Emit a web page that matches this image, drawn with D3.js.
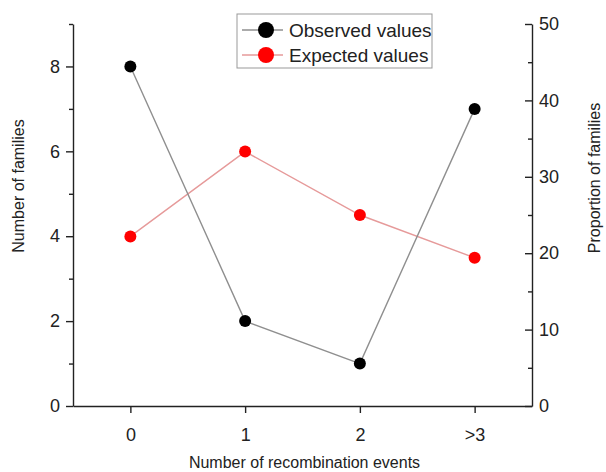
<!DOCTYPE html>
<html>
<head>
<meta charset="utf-8">
<script src="https://cdn.jsdelivr.net/npm/d3@7"></script>
<style>
  body { margin: 0; background: #fff; }
  text { font-family: "Liberation Sans", Arial, sans-serif; fill: #222; }
</style>
</head>
<body>
<div id="chart"></div>
<script>
// Data
const categories = ["0", "1", "2", ">3"];
const observed = [8, 2, 1, 7];              // number of families (left axis)
const expected = [22.2, 33.3, 25.0, 19.4];  // proportion of families, % (right axis)
const leftTicks = [0, 2, 4, 6, 8];
const leftMinor = [1, 3, 5, 7, 9];
const rightTicks = [0, 10, 20, 30, 40, 50];
const rightMinor = [5, 15, 25, 35, 45];

const W = 606, H = 472;
const plot = { left: 73, right: 532, top: 24, bottom: 406 };

const svg = d3.select("#chart")
    .append("svg")
    .attr("width", W)
    .attr("height", H);

// Scales
const xScale = d3.scaleLinear()
    .domain([-0.5, categories.length - 0.5])
    .range([plot.left, plot.right]);

const yLeft = d3.scaleLinear()
    .domain([0, 9])
    .range([plot.bottom, plot.top]);

const yRight = d3.scaleLinear()
    .domain([0, 50])
    .range([plot.bottom, plot.top]);

const axisColor = "#222";

function styleAxis(g) {
    g.selectAll("path.domain").attr("stroke", axisColor).attr("stroke-width", 1.4);
    g.selectAll(".tick line").attr("stroke", axisColor).attr("stroke-width", 1.4);
    g.selectAll(".tick text")
        .attr("fill", "#222")
        .style("font-size", "18px")
        .style("font-family", "'Liberation Sans', Arial, sans-serif");
}

// Bottom axis
svg.append("g")
    .attr("transform", `translate(0,${plot.bottom})`)
    .call(d3.axisBottom(xScale)
        .tickValues(d3.range(categories.length))
        .tickFormat((d) => categories[d])
        .tickSize(7)
        .tickSizeOuter(0)
        .tickPadding(15))
    .call(styleAxis);

// Left axis, major + minor ticks
svg.append("g")
    .attr("transform", `translate(${plot.left},0)`)
    .call(d3.axisLeft(yLeft)
        .tickValues(leftTicks)
        .tickFormat(d3.format("d"))
        .tickSize(7)
        .tickSizeOuter(0)
        .tickPadding(6))
    .call(styleAxis);

svg.append("g")
    .attr("transform", `translate(${plot.left},0)`)
    .call(d3.axisLeft(yLeft)
        .tickValues(leftMinor)
        .tickFormat("")
        .tickSize(4)
        .tickSizeOuter(0))
    .call(styleAxis)
    .select("path.domain").remove();

// Right axis, ticks point inward
svg.append("g")
    .attr("transform", `translate(${plot.right},0)`)
    .call(d3.axisRight(yRight)
        .tickValues(rightTicks)
        .tickFormat(d3.format("d"))
        .tickSize(-7)
        .tickSizeOuter(0)
        .tickPadding(7))
    .call(styleAxis);

svg.append("g")
    .attr("transform", `translate(${plot.right},0)`)
    .call(d3.axisRight(yRight)
        .tickValues(rightMinor)
        .tickFormat("")
        .tickSize(-4)
        .tickSizeOuter(0))
    .call(styleAxis)
    .select("path.domain").remove();

// Axis titles
svg.append("text")
    .attr("text-anchor", "middle")
    .attr("x", (plot.left + plot.right) / 2 + 2)
    .attr("y", 468)
    .style("font-size", "16px")
    .text("Number of recombination events");

svg.append("text")
    .attr("text-anchor", "middle")
    .attr("transform", "rotate(-90)")
    .attr("x", -186)
    .attr("y", 24)
    .style("font-size", "16px")
    .text("Number of families");

svg.append("text")
    .attr("text-anchor", "middle")
    .attr("transform", "rotate(-90)")
    .attr("x", -178)
    .attr("y", 600)
    .style("font-size", "16px")
    .text("Proportion of families");

// Lines
const obsLine = d3.line()
    .x((d, i) => xScale(i))
    .y((d) => yLeft(d));

const expLine = d3.line()
    .x((d, i) => xScale(i))
    .y((d) => yRight(d));

svg.append("path")
    .attr("fill", "none")
    .attr("stroke", "#e69a9a")
    .attr("stroke-width", 1.4)
    .attr("d", expLine(expected));

svg.append("path")
    .attr("fill", "none")
    .attr("stroke", "#8f8f8f")
    .attr("stroke-width", 1.4)
    .attr("d", obsLine(observed));

// Points
svg.selectAll(".exp-point")
    .data(expected)
    .enter()
    .append("circle")
    .attr("class", "exp-point")
    .attr("cx", (d, i) => xScale(i))
    .attr("cy", (d) => yRight(d))
    .attr("r", 6)
    .attr("fill", "#ff0000");

svg.selectAll(".obs-point")
    .data(observed)
    .enter()
    .append("circle")
    .attr("class", "obs-point")
    .attr("cx", (d, i) => xScale(i))
    .attr("cy", (d) => yLeft(d))
    .attr("r", 6)
    .attr("fill", "#000");

// Legend
const legendItems = [
    { label: "Observed values", line: "#8f8f8f", dot: "#000" },
    { label: "Expected values", line: "#e69a9a", dot: "#ff0000" },
];

const legend = svg.append("g").attr("transform", "translate(237,14)");

legend.append("rect")
    .attr("width", 195)
    .attr("height", 54)
    .attr("fill", "#fff")
    .attr("stroke", "#999")
    .attr("stroke-width", 1);

legend.selectAll(".legend-row")
    .data(legendItems)
    .enter()
    .append("g")
    .attr("class", "legend-row")
    .attr("transform", (d, i) => `translate(0,${16 + i * 25})`)
    .each(function (d) {
        const row = d3.select(this);
        row.append("line")
            .attr("x1", 5).attr("x2", 46)
            .attr("stroke", d.line)
            .attr("stroke-width", 1.4);
        row.append("circle")
            .attr("cx", 29)
            .attr("r", 8)
            .attr("fill", d.dot);
        row.append("text")
            .attr("x", 52)
            .attr("y", 7)
            .style("font-size", "19px")
            .text(d.label);
    });
</script>
</body>
</html>
